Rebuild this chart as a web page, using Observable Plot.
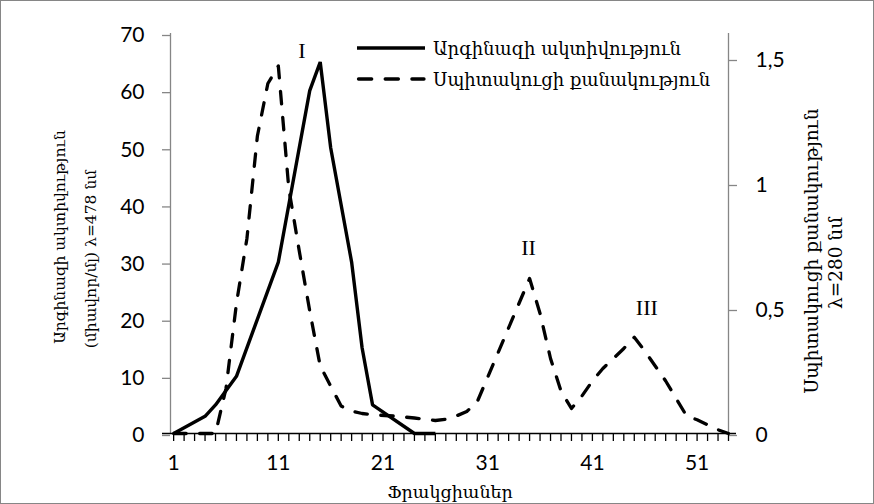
<!DOCTYPE html>
<html><head><meta charset="utf-8">
<script src="https://cdn.jsdelivr.net/npm/d3@7"></script>
<script src="https://cdn.jsdelivr.net/npm/@observablehq/plot@0.6"></script>
<style>
html,body{margin:0;padding:0;background:#fff;}
#chart{position:relative;width:874px;height:504px;}
#chart svg{display:block;}
</style></head><body><div id="chart"></div>
<script>
// ---- data ----
const fractions = d3.range(1, 55);               // fraction numbers 1..54
const fractionTicks = [1, 11, 21, 31, 41, 51];
const leftTicks = [0, 10, 20, 30, 40, 50, 60, 70];
const rightTicks = [0, 0.5, 1, 1.5];
const rightTickLabels = ["0", "0,5", "1", "1,5"];

const activityFraction = [1, 4, 5, 7, 11, 14, 15, 16, 18, 19, 20, 24, 26];
const activity =         [0, 3, 5, 10, 30, 60, 65, 50, 30, 15, 5, 0, 0];

const proteinFraction = [1, 5, 6, 7, 8, 9, 10, 11, 12, 13, 14, 15, 16, 17, 18, 19, 20, 22, 24, 26, 27, 28, 29, 30,
                         35, 36, 37, 38, 39, 40, 41, 42, 43, 44, 45, 46, 47, 48, 49, 50, 51, 52, 53, 54];
const protein = [0, 0, 0.18, 0.52, 0.78, 1.19, 1.40, 1.47, 0.98, 0.73, 0.49, 0.27, 0.19, 0.11, 0.09, 0.08, 0.075, 0.07, 0.062, 0.052, 0.057, 0.07, 0.088, 0.127,
                 0.62, 0.48, 0.30, 0.17, 0.10, 0.15, 0.21, 0.26, 0.30, 0.34, 0.385, 0.33, 0.27, 0.21, 0.14, 0.07, 0.055, 0.035, 0.015, 0];

const peakNames = ["I", "II", "III"];
const peakFraction = [13.25, 34.9, 46.2];
const peakLevel = [65.7, 31.2, 20.7];

const legendNames = ["Արգինազի ակտիվություն", "Սպիտակուցի քանակություն"];
const leftTitle = ["Արգինազի ակտիվություն", "(միավոր/մլ) λ=478 նմ"];
const rightTitle = ["Սպիտակուցի քանակություն", "λ=280 նմ"];
const xTitle = "Ֆրակցիաներ";

// ---- build ----
const leftMax = 70, rightMax = 1.6, k = leftMax / rightMax;
const activityData = activityFraction.map((f, i) => ({f, v: activity[i]}));
const proteinData = proteinFraction.map((f, i) => ({f, v: protein[i] * k}));
const peaks = peakNames.map((n, i) => ({n, f: peakFraction[i], v: peakLevel[i]}));
const rightMap = new Map(rightTicks.map((t, i) => [t * k, rightTickLabels[i]]));

const armFont = "'DejaVu Serif', 'DejaVu Sans', serif";
const gray = "#868686";

const chart = Plot.plot({
  width: 874, height: 504,
  marginLeft: 170, marginRight: 146, marginTop: 33, marginBottom: 71,
  x: {domain: [0.7, 54]},
  y: {domain: [0, leftMax]},
  style: {fontFamily: "Lato, sans-serif", fontSize: "21px", color: "#000", background: "#fff", overflow: "visible"},
  marks: [
    Plot.ruleX([0.7], {stroke: gray, strokeWidth: 1.3}),
    Plot.ruleX([54], {stroke: gray, strokeWidth: 1.3}),
    Plot.axisY(leftTicks, {anchor: "left", tickSize: 8, tickPadding: 18, stroke: gray, strokeWidth: 1.3, fill: "#000", dy: 2, label: null}),
    Plot.axisY(rightTicks.map(t => t * k), {anchor: "right", tickSize: 8, tickPadding: 19, stroke: gray, strokeWidth: 1.3, fill: "#000", dy: 2,
      tickFormat: d => rightMap.get(d), label: null}),
    Plot.axisX(fractions, {anchor: "bottom", tickSize: 8, stroke: "#000", strokeWidth: 1.3, fill: "none", label: null}),
    Plot.axisX(fractionTicks, {anchor: "bottom", tickSize: 0, tickPadding: 22, fill: "#000", label: null}),
    Plot.ruleY([0], {stroke: "#000", strokeWidth: 1.5, insetLeft: -8, insetRight: -8}),
    Plot.line(activityData, {x: "f", y: "v", stroke: "#000", strokeWidth: 3.4, strokeLinejoin: "miter", strokeLinecap: "butt"}),
    Plot.line(proteinData, {x: "f", y: "v", stroke: "#000", strokeWidth: 3.3, strokeDasharray: "12.5,13.5", strokeLinecap: "round", strokeLinejoin: "round"}),
    Plot.text(peaks, {x: "f", y: "v", text: "n", fontFamily: "'Liberation Serif', serif", fontSize: 22, lineAnchor: "bottom", textAnchor: "middle", fill: "#000"})
  ]
});
document.getElementById("chart").appendChild(chart);

const svg = d3.select(chart);
// chart-area border
svg.append("rect").attr("x", 0.5).attr("y", 0.5).attr("width", 873).attr("height", 503)
  .attr("fill", "none").attr("stroke", gray).attr("stroke-width", 1);

// legend
const lg = svg.append("g").attr("font-family", armFont).attr("font-size", 18).attr("fill", "#000").attr("text-anchor", "start");
const rows = [48, 79];
lg.append("line").attr("x1", 357).attr("x2", 425).attr("y1", rows[0]).attr("y2", rows[0])
  .attr("stroke", "#000").attr("stroke-width", 3.4);
lg.append("line").attr("x1", 358.5).attr("x2", 424).attr("y1", rows[1]).attr("y2", rows[1])
  .attr("stroke", "#000").attr("stroke-width", 3.3).attr("stroke-dasharray", "13.2,13.5").attr("stroke-linecap", "round");
legendNames.forEach((t, i) => {
  lg.append("text").attr("x", 433).attr("y", rows[i]).attr("dominant-baseline", "central").text(t);
});

// axis titles
const tg = svg.append("g").attr("font-family", armFont).attr("fill", "#000").attr("text-anchor", "middle");
const leftPos = [[60, 237], [91, 259]];
leftTitle.forEach((t, i) => {
  tg.append("text").attr("font-size", 15.5).attr("dominant-baseline", "central")
    .attr("transform", `translate(${leftPos[i][0]},${leftPos[i][1]}) rotate(-90)`).text(t);
});
const rightPos = [[811, 251], [835, 263]];
rightTitle.forEach((t, i) => {
  tg.append("text").attr("font-size", 18.5).attr("dominant-baseline", "central")
    .attr("transform", `translate(${rightPos[i][0]},${rightPos[i][1]}) rotate(-90)`).text(t);
});
tg.append("text").attr("font-size", 17.5).attr("x", 450).attr("y", 492).attr("dominant-baseline", "central").text(xTitle);
</script>
</body></html>
